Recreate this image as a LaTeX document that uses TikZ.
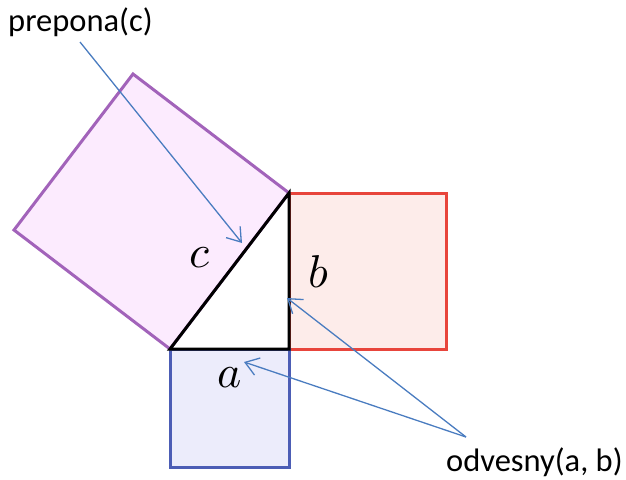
\documentclass[tikz,border=0pt]{standalone}
\usepackage{unicode-math}
\setmainfont{Carlito}
\setmathfont{Latin Modern Math}
\usetikzlibrary{arrows.meta}
\definecolor{purpleline}{HTML}{A263BA}
\definecolor{purplefill}{HTML}{FCEBFE}
\definecolor{redline}{HTML}{E8453C}
\definecolor{redfill}{HTML}{FDECEA}
\definecolor{blueline}{HTML}{4C5DB5}
\definecolor{bluefill}{HTML}{ECECFB}
\definecolor{arrowblue}{HTML}{4A7CC0}
\tikzset{
  sq/.style={line width=3pt, line join=miter},
  tri/.style={line width=3pt, black, line join=miter},
  callout/.style={draw=arrowblue, line width=1.3pt, -{Straight Barb[length=13pt,width=18pt,line width=1.3pt]}},
  lbl/.style={font=\fontsize{32.5}{36}\selectfont, inner sep=0pt},
  mathlbl/.style={font=\fontsize{46}{50}\selectfont, inner sep=0pt}
}
\begin{document}
\begin{tikzpicture}[x=1pt,y=-1pt]
\useasboundingbox (0,0) rectangle (626,479);
% vertices
\coordinate (A) at (170,349);
\coordinate (C) at (289,349);
\coordinate (B) at (289,193);
% squares
\filldraw[sq, draw=purpleline, fill=purplefill] (A) -- (B) -- (133,74) -- (14,230) -- cycle;
\filldraw[sq, draw=redline, fill=redfill] (C) -- (B) -- (446,193) -- (446,349) -- cycle;
\filldraw[sq, draw=blueline, fill=bluefill] (A) -- (C) -- (289,467) -- (170,467) -- cycle;
% triangle
\draw[tri] (A) -- (B) -- (C) -- cycle;
% labels
\node[mathlbl] (lc) at (200,258) {$c$};
\node[mathlbl] (lb) at (319,272) {$b$};
\node[mathlbl] (la) at (230,378) {$a$};
\node[lbl, anchor=west] (prep) at (8,22) {prepona(c)};
\node[lbl, anchor=west] (odv) at (446,462) {odvesny(a, b)};
% connector ends
\coordinate (p0) at (80,42);
\coordinate (pt) at (242,243);
\coordinate (o0) at (466,437);
\coordinate (bt) at (287,298);
\coordinate (at) at (244,362);
\draw[callout] (p0) -- (pt);
\draw[callout] (o0) -- (bt);
\draw[callout] (o0) -- (at);
\end{tikzpicture}
\end{document}
